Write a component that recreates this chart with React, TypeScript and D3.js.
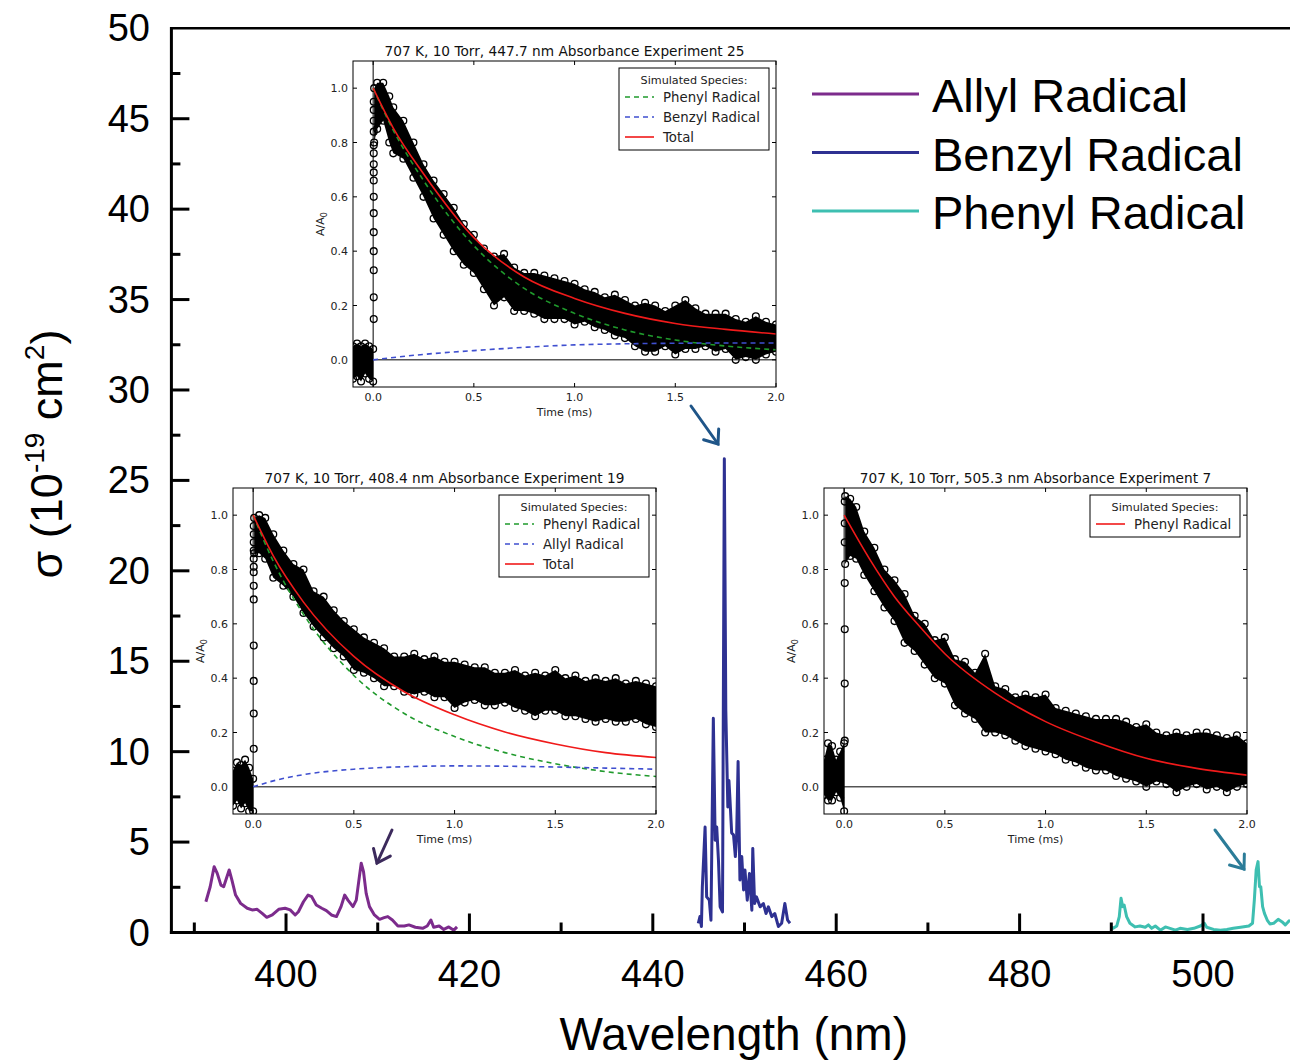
import React from "react";
import * as d3 from "d3";

// ---------------- Main spectrum data (wavelength nm, sigma 1e-19 cm^2) ----------------
const allylSpectrum: [number, number][] = [
  [391.26, 1.7], [391.73, 2.53], [392.16, 3.64], [392.5, 3.27], [392.9, 2.62], [393.2, 2.53],
  [393.8, 3.46], [394.1, 2.9], [394.5, 2.07], [395.05, 1.61], [395.77, 1.34], [396.3, 1.25],
  [396.85, 1.28], [397.4, 1.06], [397.9, 0.84], [398.5, 0.97], [399.2, 1.28], [399.9, 1.34],
  [400.45, 1.25], [401.0, 0.97], [401.35, 1.15], [401.9, 1.7], [402.4, 2.07], [402.8, 1.98],
  [403.3, 1.52], [403.9, 1.34], [404.4, 1.21], [404.95, 0.97], [405.5, 0.88], [406.0, 1.43],
  [406.4, 2.07], [406.75, 1.79], [407.3, 1.43], [407.66, 1.79], [408.0, 3.09], [408.2, 3.83],
  [408.45, 3.37], [408.74, 2.16], [409.1, 1.43], [409.64, 0.97], [410.2, 0.73], [410.7, 0.82],
  [411.1, 0.88], [411.6, 0.69], [412.2, 0.36], [412.9, 0.36], [413.4, 0.42], [414.1, 0.29],
  [414.9, 0.23], [415.4, 0.36], [415.8, 0.69], [416.1, 0.29], [416.7, 0.36], [417.2, 0.17],
  [417.75, 0.31], [418.3, 0.13], [418.65, 0.31],
];

const benzylSpectrum: [number, number][] = [
  [444.96, 0.51], [445.14, 0.88], [445.3, 0.33], [445.4, 2.52], [445.7, 5.83], [445.87, 1.97],
  [446.16, 1.79], [446.34, 0.68], [446.6, 11.85], [446.8, 5.1], [446.97, 5.83], [447.16, 3.98],
  [447.34, 1.42], [447.6, 1.14], [447.8, 26.2], [447.96, 12.3], [448.18, 6.94], [448.3, 8.4],
  [448.4, 7.5], [448.6, 5.5], [448.8, 5.4], [449.0, 4.2], [449.14, 5.3], [449.3, 9.45],
  [449.5, 2.9], [449.7, 4.2], [449.9, 2.35], [450.05, 3.45], [450.3, 1.79], [450.54, 3.26],
  [450.8, 1.23], [450.9, 4.65], [451.1, 1.6], [451.3, 1.97], [451.7, 1.42], [452.06, 1.6],
  [452.35, 1.05], [452.6, 1.42], [452.97, 0.88], [453.3, 1.05], [453.7, 0.33], [454.05, 0.51],
  [454.4, 1.6], [454.7, 0.68], [454.96, 0.51],
];

const phenylSpectrum: [number, number][] = [
  [489.93, 0.32], [490.2, 0.23], [490.6, 0.36], [490.87, 0.88], [491.06, 1.89], [491.24, 1.43],
  [491.4, 1.52], [491.67, 0.88], [492.03, 0.51], [492.6, 0.31], [493.13, 0.36], [493.7, 0.29],
  [494.05, 0.42], [494.4, 0.23], [494.8, 0.36], [495.35, 0.13], [495.9, 0.31], [496.4, 0.23],
  [497.0, 0.13], [497.5, 0.23], [498.3, 0.17], [499.0, 0.23], [499.7, 0.36], [500.15, 0.51],
  [500.4, 0.29], [501.15, 0.17], [501.9, 0.13], [502.6, 0.17], [503.3, 0.23], [504.1, 0.29],
  [505.0, 0.36], [505.4, 0.51], [505.6, 1.8], [505.8, 3.46], [506.0, 3.92], [506.16, 2.53],
  [506.3, 2.53], [506.5, 1.43], [506.7, 1.06], [507.0, 0.69], [507.3, 0.47], [507.7, 0.51],
  [508.2, 0.73], [508.6, 0.6], [508.97, 0.42], [509.3, 0.6], [509.5, 0.69],
];

const seriesNames = ["Allyl Radical", "Benzyl Radical", "Phenyl Radical"];
const seriesColors = ["#7c2b8c", "#2e3192", "#3ebfb1"];

const xMajorTicks = [400, 420, 440, 460, 480, 500];
const xMinorTicks = [390, 410, 430, 450, 470, 490, 510];
const yMajorTicks = [0, 5, 10, 15, 20, 25, 30, 35, 40, 45, 50];
const yMinorTicks = [2.5, 7.5, 12.5, 17.5, 22.5, 27.5, 32.5, 37.5, 42.5, 47.5];

// ---------------- Inset data (time ms, A/A0) ----------------
const insetXTicks = [0, 0.5, 1.0, 1.5, 2.0];
const insetYTicks = [0, 0.2, 0.4, 0.6, 0.8, 1.0];

// Inset A: 447.7 nm
const bandA: [number, number, number][] = [
  [0.005, 0.8, 1.0], [0.02, 0.85, 1.02], [0.05, 0.88, 1.02], [0.08, 0.8, 0.97], [0.1, 0.76, 0.93],
  [0.15, 0.74, 0.88], [0.2, 0.67, 0.8], [0.25, 0.6, 0.72], [0.3, 0.52, 0.66], [0.35, 0.46, 0.61],
  [0.4, 0.4, 0.56], [0.45, 0.35, 0.5], [0.5, 0.32, 0.46], [0.55, 0.26, 0.41], [0.6, 0.2, 0.38],
  [0.65, 0.23, 0.39], [0.7, 0.18, 0.34], [0.75, 0.18, 0.32], [0.8, 0.17, 0.32], [0.85, 0.15, 0.31],
  [0.9, 0.15, 0.3], [0.95, 0.15, 0.29], [1.0, 0.13, 0.28], [1.05, 0.14, 0.26], [1.1, 0.12, 0.25],
  [1.15, 0.11, 0.23], [1.2, 0.09, 0.24], [1.25, 0.08, 0.22], [1.3, 0.05, 0.2], [1.35, 0.03, 0.21],
  [1.4, 0.03, 0.2], [1.45, 0.05, 0.18], [1.5, 0.02, 0.2], [1.55, 0.04, 0.22], [1.6, 0.04, 0.19],
  [1.65, 0.05, 0.17], [1.7, 0.03, 0.17], [1.75, 0.04, 0.17], [1.8, 0.0, 0.15], [1.85, 0.01, 0.14],
  [1.9, 0.0, 0.16], [1.95, 0.02, 0.14], [2.0, 0.03, 0.13],
];
const preA: [number, number, number][] = [
  [-0.1, -0.07, 0.05], [-0.08, -0.06, 0.06], [-0.06, -0.08, 0.05], [-0.04, -0.05, 0.06],
  [-0.02, -0.07, 0.05], [0.0, -0.08, 0.04],
];
const riseA = [0.15, 0.23, 0.33, 0.4, 0.47, 0.54, 0.6, 0.66, 0.69, 0.72, 0.76, 0.79, 0.84, 0.88, 0.92, 0.95];
const totalA: [number, number][] = [
  [0, 1.0], [0.1, 0.853], [0.25, 0.685], [0.5, 0.45], [0.75, 0.305], [1.0, 0.226], [1.25, 0.171],
  [1.5, 0.134], [1.75, 0.112], [2.0, 0.095],
];
const phenylA: [number, number][] = [
  [0, 1.0], [0.1, 0.845], [0.25, 0.66], [0.5, 0.42], [0.75, 0.263], [1.0, 0.171], [1.25, 0.11],
  [1.5, 0.073], [1.75, 0.051], [2.0, 0.037],
];
const benzylA: [number, number][] = [
  [0, 0.0], [0.25, 0.02], [0.5, 0.034], [0.75, 0.046], [1.0, 0.055], [1.25, 0.059], [1.5, 0.061],
  [1.75, 0.062], [2.0, 0.062],
];

// Inset B: 408.4 nm
const bandB: [number, number, number][] = [
  [0.005, 0.86, 0.99], [0.03, 0.86, 1.0], [0.06, 0.84, 0.99], [0.1, 0.77, 0.93], [0.15, 0.74, 0.87],
  [0.2, 0.7, 0.82], [0.25, 0.64, 0.8], [0.3, 0.59, 0.72], [0.35, 0.55, 0.7], [0.4, 0.51, 0.65],
  [0.45, 0.48, 0.61], [0.5, 0.43, 0.58], [0.55, 0.42, 0.55], [0.6, 0.4, 0.53], [0.65, 0.37, 0.51],
  [0.7, 0.37, 0.48], [0.75, 0.35, 0.48], [0.8, 0.34, 0.49], [0.85, 0.35, 0.47], [0.9, 0.33, 0.48],
  [0.95, 0.33, 0.46], [1.0, 0.29, 0.46], [1.05, 0.31, 0.45], [1.1, 0.32, 0.44], [1.15, 0.3, 0.44],
  [1.2, 0.3, 0.42], [1.25, 0.31, 0.42], [1.3, 0.29, 0.43], [1.35, 0.28, 0.41], [1.4, 0.26, 0.42],
  [1.45, 0.28, 0.41], [1.5, 0.28, 0.43], [1.55, 0.26, 0.4], [1.6, 0.26, 0.41], [1.65, 0.25, 0.39],
  [1.7, 0.24, 0.4], [1.75, 0.25, 0.39], [1.8, 0.24, 0.4], [1.85, 0.24, 0.38], [1.9, 0.25, 0.39],
  [1.95, 0.23, 0.38], [2.0, 0.22, 0.37],
];
const preB: [number, number, number][] = [
  [-0.1, -0.07, 0.06], [-0.08, -0.05, 0.09], [-0.06, -0.08, 0.08], [-0.04, -0.06, 0.1],
  [-0.02, -0.09, 0.07], [0.0, -0.09, 0.03],
];
const riseB = [0.14, 0.27, 0.39, 0.52, 0.69, 0.74, 0.79, 0.81, 0.84, 0.87, 0.9, 0.93, 0.96];
const totalB: [number, number][] = [
  [0, 1.0], [0.1, 0.85], [0.25, 0.68], [0.5, 0.48], [0.75, 0.35], [1.0, 0.265], [1.25, 0.202],
  [1.5, 0.158], [1.75, 0.126], [2.0, 0.108],
];
const phenylB: [number, number][] = [
  [0, 1.0], [0.1, 0.83], [0.25, 0.635], [0.5, 0.41], [0.75, 0.27], [1.0, 0.185], [1.25, 0.126],
  [1.5, 0.085], [1.75, 0.056], [2.0, 0.038],
];
const allylB: [number, number][] = [
  [0, 0.0], [0.1, 0.022], [0.25, 0.045], [0.5, 0.065], [0.75, 0.074], [1.0, 0.077], [1.25, 0.076],
  [1.5, 0.073], [1.75, 0.069], [2.0, 0.065],
];

// Inset C: 505.3 nm
const bandC: [number, number, number][] = [
  [0.005, 0.82, 1.07], [0.03, 0.85, 1.06], [0.06, 0.84, 1.03], [0.1, 0.78, 0.94], [0.15, 0.72, 0.88],
  [0.2, 0.66, 0.8], [0.25, 0.61, 0.76], [0.3, 0.53, 0.71], [0.35, 0.5, 0.63], [0.4, 0.45, 0.6],
  [0.45, 0.4, 0.54], [0.5, 0.38, 0.55], [0.55, 0.3, 0.47], [0.6, 0.27, 0.46], [0.65, 0.25, 0.42],
  [0.7, 0.2, 0.49], [0.75, 0.2, 0.37], [0.8, 0.19, 0.36], [0.85, 0.17, 0.33], [0.9, 0.15, 0.34],
  [0.95, 0.14, 0.33], [1.0, 0.13, 0.34], [1.05, 0.12, 0.29], [1.1, 0.1, 0.28], [1.15, 0.09, 0.27],
  [1.2, 0.07, 0.26], [1.25, 0.06, 0.25], [1.3, 0.06, 0.25], [1.35, 0.04, 0.25], [1.4, 0.03, 0.24],
  [1.45, 0.02, 0.22], [1.5, 0.0, 0.23], [1.55, 0.02, 0.2], [1.6, 0.01, 0.19], [1.65, -0.02, 0.2],
  [1.7, 0.0, 0.19], [1.75, 0.01, 0.2], [1.8, -0.01, 0.2], [1.85, 0.0, 0.19], [1.9, -0.02, 0.18],
  [1.95, 0.0, 0.19], [2.0, 0.01, 0.16],
];
const preC: [number, number, number][] = [
  [-0.1, -0.03, 0.1], [-0.08, -0.05, 0.16], [-0.06, -0.05, 0.15], [-0.04, -0.02, 0.1],
  [-0.02, -0.04, 0.13], [0.0, -0.09, 0.16],
];
const riseC = [0.17, 0.38, 0.58, 0.75, 0.9, 0.97, 1.05];
const phenylC: [number, number][] = [
  [0, 1.0], [0.125, 0.84], [0.25, 0.7], [0.375, 0.59], [0.5, 0.49], [0.75, 0.345], [1.0, 0.24],
  [1.25, 0.165], [1.5, 0.105], [1.75, 0.068], [2.0, 0.043],
];

const GREEN = "#1f9a2c";
const BLUE = "#3f4fd0";
const RED = "#f01a1a";

// ---------------- Main geometry ----------------
const PL = 171.4, PR = 1294.7, PT = 28.3, PB = 932.5;
const xMain = d3.scaleLinear().domain([387.5, 510]).range([PL, PR]);
const yMain = d3.scaleLinear().domain([0, 50]).range([PB, PT]);

type Fit = { data: [number, number][]; color: string; dash?: string; label: string };

function Inset(props: {
  id: string; left: number; top: number; title: string;
  band: [number, number, number][]; pre: [number, number, number][]; rise: number[];
  fits: Fit[];
}) {
  const { id, left, top, title, band, pre, rise, fits } = props;
  const w = 423, h = 326;
  const x = d3.scaleLinear().domain([-0.1, 2.0]).range([left, left + w]);
  const y = d3.scaleLinear().domain([-0.1, 1.1]).range([top + h, top]);
  const area = d3.area<[number, number, number]>().x((d) => x(d[0])).y0((d) => y(d[1])).y1((d) => y(d[2]));
  const line = d3.line<[number, number]>().x((d) => x(d[0])).y((d) => y(d[1])).curve(d3.curveMonotoneX);
  const font = "'DejaVu Sans', sans-serif";
  const lgW = 150, lgH = 22 + 20 * fits.length;
  const lgX = left + w - 157, lgY = top + 7;
  const ring = (cx: number, cy: number, k: string) => (
    <circle key={k} cx={cx} cy={cy} r={3.4} fill="none" stroke="#000" strokeWidth={1.3} />
  );
  return (
    <g>
      <defs>
        <clipPath id={id}>
          <rect x={left} y={top} width={w} height={h} />
        </clipPath>
      </defs>
      <rect x={left} y={top} width={w} height={h} fill="#fff" />
      <g clipPath={`url(#${id})`}>
        <line x1={left} x2={left + w} y1={y(0)} y2={y(0)} stroke="#000" strokeWidth={1} />
        <line x1={x(0)} x2={x(0)} y1={top} y2={top + h} stroke="#000" strokeWidth={1} />
        <path d={area(band) || ""} fill="#000" />
        <path d={area(pre) || ""} fill="#000" />
        {band.map((d, i) => ring(x(d[0]), y(d[2]), "h" + i))}
        {band.map((d, i) => ring(x(d[0]), y(d[1]), "l" + i))}
        {pre.map((d, i) => ring(x(d[0]), y(d[2]), "ph" + i))}
        {pre.map((d, i) => ring(x(d[0]), y(d[1]), "pl" + i))}
        {rise.map((v, i) => ring(x(0.003), y(v), "r" + i))}
        {fits.map((f, i) => (
          <path key={i} d={line(f.data) || ""} fill="none" stroke={f.color} strokeWidth={1.6}
            strokeDasharray={f.dash} />
        ))}
      </g>
      <rect x={left} y={top} width={w} height={h} fill="none" stroke="#000" strokeWidth={1} />
      {insetXTicks.map((t) => (
        <g key={"xt" + t}>
          <line x1={x(t)} x2={x(t)} y1={top + h} y2={top + h - 4} stroke="#000" />
          <line x1={x(t)} x2={x(t)} y1={top} y2={top + 4} stroke="#000" />
          <text x={x(t)} y={top + h + 14} fontSize={11} fontFamily={font} textAnchor="middle" fill="#222">
            {t.toFixed(1)}
          </text>
        </g>
      ))}
      {insetYTicks.map((t) => (
        <g key={"yt" + t}>
          <line x1={left} x2={left + 4} y1={y(t)} y2={y(t)} stroke="#000" />
          <line x1={left + w} x2={left + w - 4} y1={y(t)} y2={y(t)} stroke="#000" />
          <text x={left - 5} y={y(t) + 4} fontSize={11} fontFamily={font} textAnchor="end" fill="#222">
            {t.toFixed(1)}
          </text>
        </g>
      ))}
      <text x={left + w / 2} y={top - 5} fontSize={13.7} fontFamily={font} textAnchor="middle" fill="#111">
        {title}
      </text>
      <text x={left + w / 2} y={top + h + 29} fontSize={11} fontFamily={font} textAnchor="middle" fill="#222">
        Time (ms)
      </text>
      <text transform={`translate(${left - 29},${top + h / 2}) rotate(-90)`} fontSize={11}
        fontFamily={font} textAnchor="middle" fill="#222">
        A/A<tspan fontSize={8} dy={3}>0</tspan>
      </text>
      <rect x={lgX} y={lgY} width={lgW} height={lgH} fill="#fff" stroke="#000" strokeWidth={1} />
      <text x={lgX + lgW / 2} y={lgY + 16} fontSize={11.2} fontFamily={font} textAnchor="middle" fill="#222">
        Simulated Species:
      </text>
      {fits.map((f, i) => (
        <g key={"lg" + i}>
          <line x1={lgX + 6} x2={lgX + 35} y1={lgY + 29 + i * 20} y2={lgY + 29 + i * 20}
            stroke={f.color} strokeWidth={1.6} strokeDasharray={f.dash} />
          <text x={lgX + 44} y={lgY + 34 + i * 20} fontSize={13.3} fontFamily={font} fill="#222">
            {f.label}
          </text>
        </g>
      ))}
    </g>
  );
}

function Arrow(props: { x1: number; y1: number; x2: number; y2: number; color: string }) {
  const { x1, y1, x2, y2, color } = props;
  const ang = Math.atan2(y1 - y2, x1 - x2);
  const L = 15, a = (38 * Math.PI) / 180;
  const p1 = [x2 + L * Math.cos(ang + a), y2 + L * Math.sin(ang + a)];
  const p2 = [x2 + L * Math.cos(ang - a), y2 + L * Math.sin(ang - a)];
  return (
    <g stroke={color} strokeWidth={3} fill="none" strokeLinecap="round">
      <line x1={x1} y1={y1} x2={x2} y2={y2} />
      <polyline points={`${p1[0]},${p1[1]} ${x2},${y2} ${p2[0]},${p2[1]}`} strokeLinejoin="miter" />
    </g>
  );
}

export default function App() {
  const specLine = d3.line<[number, number]>().x((d) => xMain(d[0])).y((d) => yMain(d[1]));
  const spectra = [allylSpectrum, benzylSpectrum, phenylSpectrum];
  const mainFont = "'Liberation Sans', Arial, sans-serif";
  return (
    <svg width={1290} height={1063} style={{ position: "absolute", left: 0, top: 0, background: "#fff" }}>
      <rect x={0} y={0} width={1290} height={1063} fill="#fff" />
      {/* spectra */}
      {spectra.map((s, i) => (
        <path key={i} d={specLine(s) || ""} fill="none" stroke={seriesColors[i]} strokeWidth={3}
          strokeLinejoin="round" />
      ))}
      {/* frame */}
      <line x1={PL} x2={1290} y1={PT} y2={PT} stroke="#000" strokeWidth={2.6} />
      <line x1={PL} x2={PL} y1={PT - 1.3} y2={PB + 1.5} stroke="#000" strokeWidth={3} />
      <line x1={PL - 1.5} x2={1290} y1={PB} y2={PB} stroke="#000" strokeWidth={3} />
      {yMajorTicks.map((v) => (
        <g key={"ym" + v}>
          {v > 0 && v < 50 && <line x1={PL} x2={PL + 18} y1={yMain(v)} y2={yMain(v)} stroke="#000" strokeWidth={3} />}
          <text x={150} y={yMain(v) + 13} fontSize={38} fontFamily={mainFont} textAnchor="end" fill="#000">
            {v}
          </text>
        </g>
      ))}
      {yMinorTicks.map((v) => (
        <line key={"yn" + v} x1={PL} x2={PL + 9} y1={yMain(v)} y2={yMain(v)} stroke="#000" strokeWidth={3} />
      ))}
      {xMajorTicks.map((v) => (
        <g key={"xm" + v}>
          <line x1={xMain(v)} x2={xMain(v)} y1={PB} y2={PB - 19} stroke="#000" strokeWidth={3} />
          <text x={xMain(v)} y={987} fontSize={38} fontFamily={mainFont} textAnchor="middle" fill="#000">
            {v}
          </text>
        </g>
      ))}
      {xMinorTicks.map((v) => (
        <line key={"xn" + v} x1={xMain(v)} x2={xMain(v)} y1={PB} y2={PB - 10} stroke="#000" strokeWidth={3} />
      ))}
      {/* axis titles */}
      <text x={(PL + 1290) / 2 + 3} y={1050} fontSize={46} fontFamily={mainFont} textAnchor="middle" fill="#000">
        Wavelength (nm)
      </text>
      <text transform="translate(62,454) rotate(-90)" fontSize={45} fontFamily={mainFont} textAnchor="middle" fill="#000">
        σ (10<tspan fontSize={28} dy={-18}>-19</tspan><tspan dy={18}> cm</tspan>
        <tspan fontSize={28} dy={-18}>2</tspan><tspan dy={18}>)</tspan>
      </text>
      {/* legend */}
      {seriesNames.map((n, i) => (
        <g key={n}>
          <line x1={812} x2={919} y1={94 + i * 58.5} y2={94 + i * 58.5} stroke={seriesColors[i]} strokeWidth={3.2} />
          <text x={932} y={112 + i * 58.5} fontSize={47} fontFamily={mainFont} fill="#000">{n}</text>
        </g>
      ))}
      {/* insets */}
      <Inset id="cA" left={353} top={61} title="707 K, 10 Torr, 447.7 nm Absorbance Experiment 25"
        band={bandA} pre={preA} rise={riseA}
        fits={[
          { data: phenylA, color: GREEN, dash: "5,4", label: "Phenyl Radical" },
          { data: benzylA, color: BLUE, dash: "5,4", label: "Benzyl Radical" },
          { data: totalA, color: RED, label: "Total" },
        ]} />
      <Inset id="cB" left={233} top={488} title="707 K, 10 Torr, 408.4 nm Absorbance Experiment 19"
        band={bandB} pre={preB} rise={riseB}
        fits={[
          { data: phenylB, color: GREEN, dash: "5,4", label: "Phenyl Radical" },
          { data: allylB, color: BLUE, dash: "5,4", label: "Allyl Radical" },
          { data: totalB, color: RED, label: "Total" },
        ]} />
      <Inset id="cC" left={824} top={488} title="707 K, 10 Torr, 505.3 nm Absorbance Experiment 7"
        band={bandC} pre={preC} rise={riseC}
        fits={[{ data: phenylC, color: RED, label: "Phenyl Radical" }]} />
      {/* arrows */}
      <Arrow x1={691} y1={406} x2={718} y2={444} color="#1f5588" />
      <Arrow x1={392} y1={830} x2={377} y2={863} color="#3c2a5c" />
      <Arrow x1={1215} y1={830} x2={1244} y2={869} color="#2b7c98" />
    </svg>
  );
}
